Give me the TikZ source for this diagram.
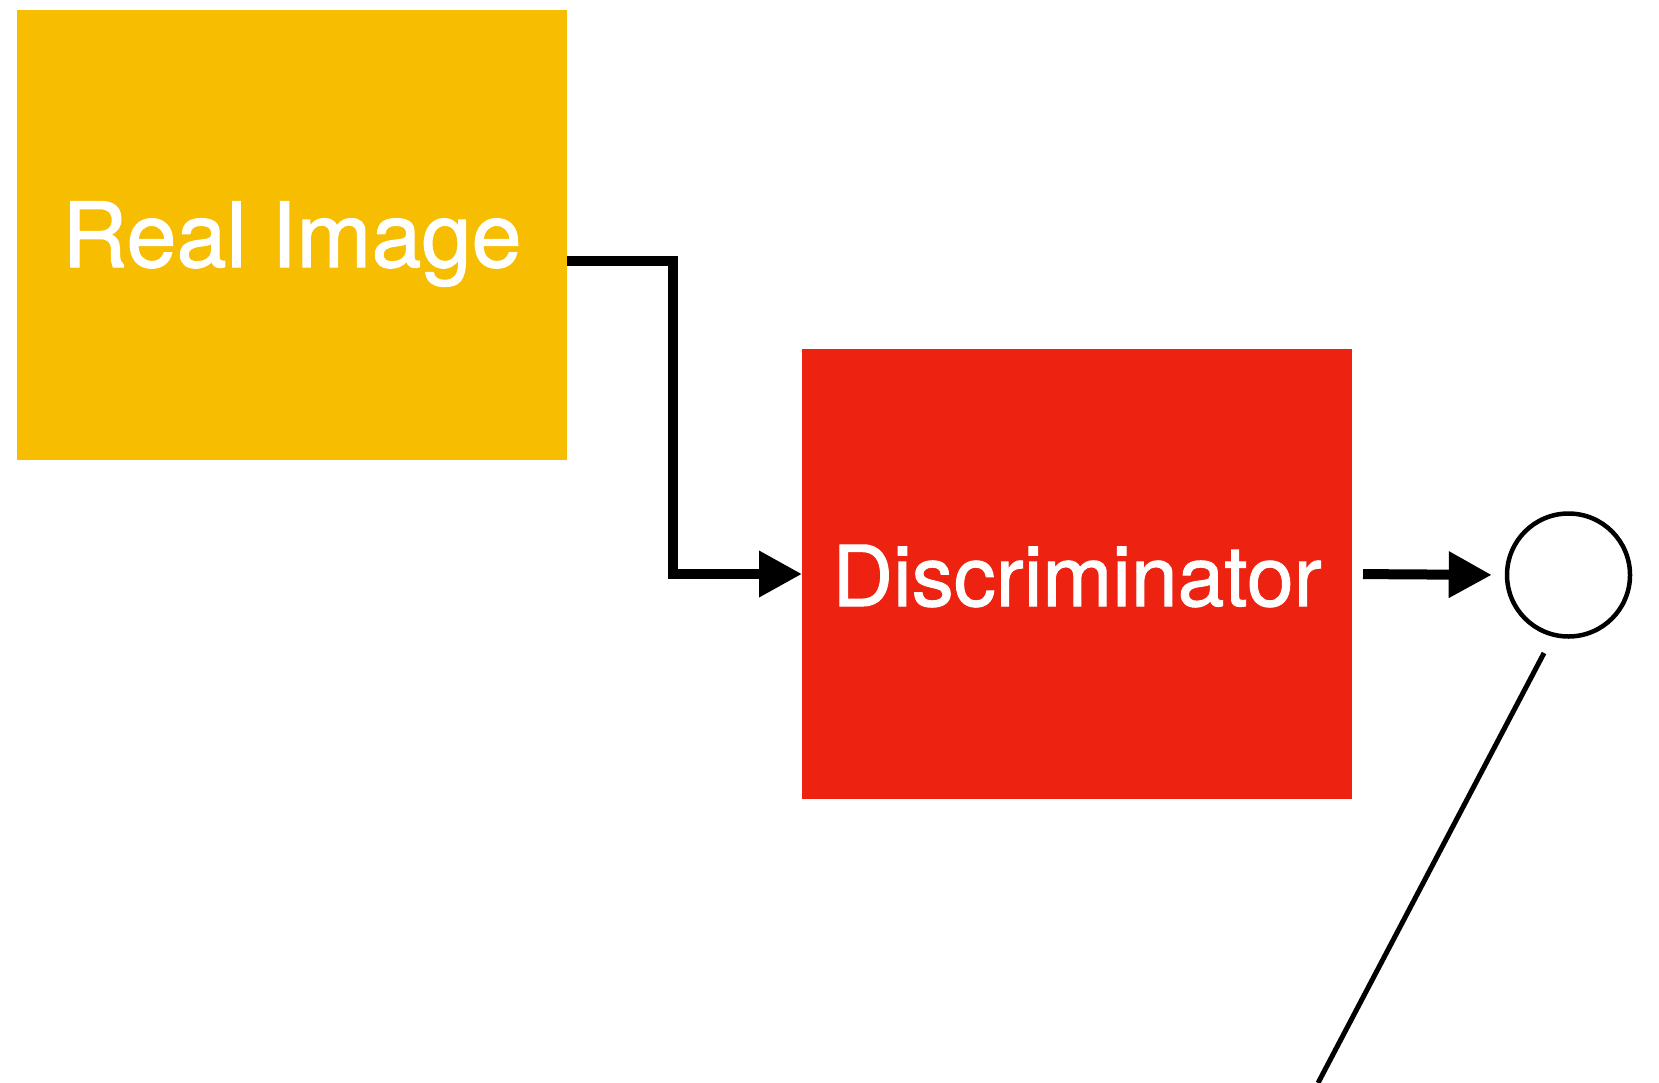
\documentclass[tikz,border=0pt]{standalone}
\usepackage{fontspec}
\setmainfont{TeX Gyre Heros}[FakeBold=1.2]
\usetikzlibrary{arrows.meta}
\definecolor{realyellow}{RGB}{247,189,0}
\definecolor{discred}{RGB}{238,34,16}
\begin{document}
\begin{tikzpicture}[x=1pt,y=-1pt,
  box/.style={rectangle, inner sep=0pt, outer sep=0pt, text=white,
    minimum width=550pt, minimum height=450pt, text depth=0pt, text height=64pt},
  arr/.style={line width=10pt, -{Triangle[length=43pt,width=44pt]}},
  thin/.style={line width=5pt}]
\useasboundingbox (0,0) rectangle (1659,1082);
\node[box, fill=realyellow, font=\fontsize{90}{90}\selectfont] (real) at (292,235) {Real Image};
\node[box, fill=discred, font=\fontsize{84}{84}\selectfont] (disc) at (1077,574) {Discriminator};
\node[circle, draw, line width=4.5pt, minimum size=123pt, inner sep=0pt] (circ) at (1568.5,575) {};
\coordinate (d1) at (1544,653);
\coordinate (d2) at (1318,1083);
\draw[arr] ([yshift=-26pt]real.east) -- ++(106,0) |- (disc.west);
\draw[arr, shorten <=11pt, shorten >=13pt] (disc.east) -- (circ.west);
\draw[thin] (d1) -- (d2);
\end{tikzpicture}
\end{document}
